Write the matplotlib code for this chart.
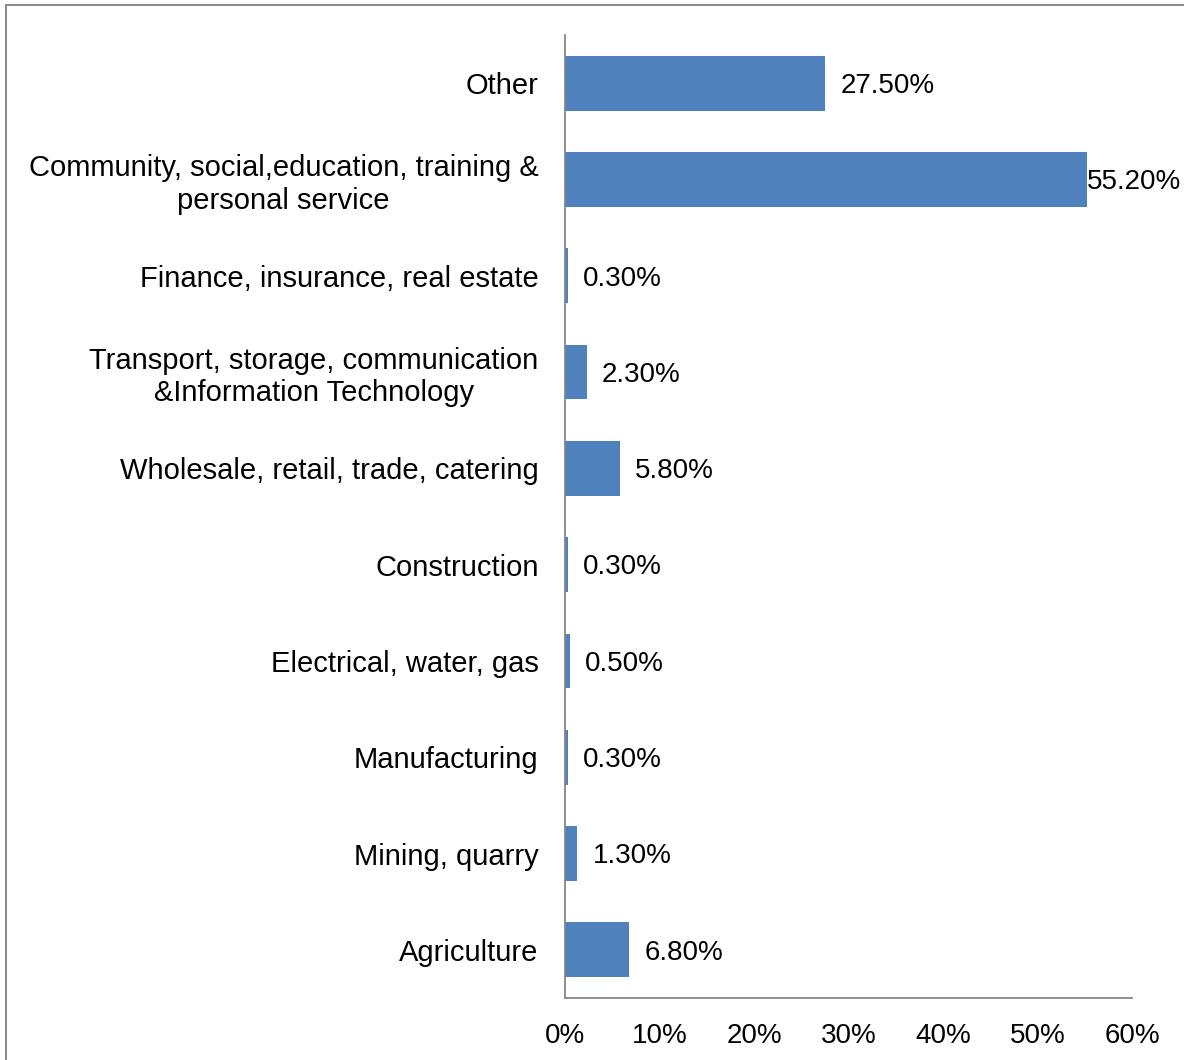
import matplotlib.pyplot as plt
from matplotlib.patches import Rectangle
from matplotlib.ticker import FuncFormatter

plt.rcParams['font.family'] = ['Liberation Sans', 'DejaVu Sans']

sectors = [
    "Agriculture",
    "Mining, quarry",
    "Manufacturing",
    "Electrical, water, gas",
    "Construction",
    "Wholesale, retail, trade, catering",
    "Transport, storage, communication\n&Information Technology",
    "Finance, insurance, real estate",
    "Community, social,education, training &\npersonal service",
    "Other",
]
shares = [6.8, 1.3, 0.3, 0.5, 0.3, 5.8, 2.3, 0.3, 55.2, 27.5]
x_ticks = [0, 10, 20, 30, 40, 50, 60]

bar_color = '#4F81BD'
axis_color = '#868686'

fig = plt.figure(figsize=(11.84, 10.6), dpi=100)
ax = fig.add_axes([565 / 1184, 1 - 998 / 1060, (1132 - 565) / 1184, (998 - 35) / 1060])

pos = list(range(len(sectors)))
ax.barh(pos, shares, height=0.57, color=bar_color)

ax.set_xlim(0, 60)
ax.set_ylim(-0.5, len(sectors) - 0.5)
ax.set_xticks(x_ticks)
ax.xaxis.set_major_formatter(FuncFormatter(lambda v, _: f"{v:.0f}%"))
ax.set_yticks(pos)
ax.set_yticklabels(sectors, multialignment='center')
ax.tick_params(axis='x', length=0, pad=18, labelsize=20)
ax.tick_params(axis='y', length=0, pad=19, labelsize=21)

for side in ['top', 'right']:
    ax.spines[side].set_visible(False)
for side in ['left', 'bottom']:
    ax.spines[side].set_color(axis_color)
    ax.spines[side].set_linewidth(1.3)

# value labels just past the end of each bar; the long bar has no room left
for p, v in zip(pos, shares):
    off = 0 if v > 50 else 11
    ax.annotate(f"{v:.2f}%", xy=(v, p), xytext=(off, -2), textcoords='offset points',
                ha='left', va='center', fontsize=20)

# chart frame
fig.patches.append(Rectangle((6 / 1184, -0.05), 1.1, 1 - 5 / 1060 + 0.05,
                             transform=fig.transFigure, fill=False,
                             edgecolor='#8c8c8c', linewidth=1.5))

fig.savefig("out.png", dpi=100)
